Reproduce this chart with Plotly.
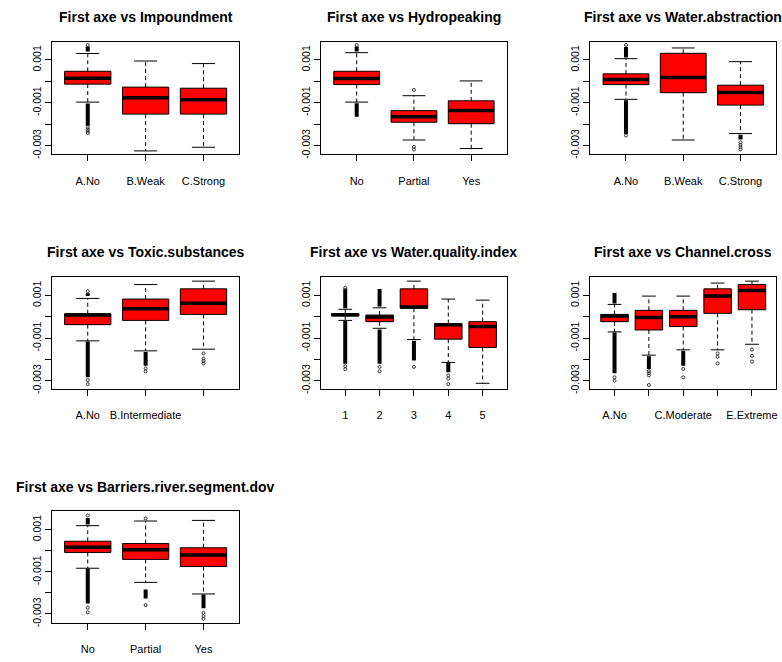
import plotly.graph_objects as go

W, H = 782, 662

# ---------------- data ----------------
imp_title = "First axe vs Impoundment"
imp_ticks = ["A.No", "B.Weak", "C.Strong"]
imp_lo = [-0.00097, -0.00325, -0.00308]
imp_q1 = [-0.00013, -0.00153, -0.00153]
imp_med = [0.00015, -0.00077, -0.00086]
imp_q3 = [0.00047, -0.00027, -0.00032]
imp_hi = [0.00130, 0.00095, 0.00083]
imp_runs = [[(0.00140, 0.00163), (-0.00103, -0.00207)], [], []]
imp_pts = [[0.00170, -0.00215, -0.00224, -0.00232, -0.00241], [], []]

hyd_title = "First axe vs Hydropeaking"
hyd_ticks = ["No", "Partial", "Yes"]
hyd_lo = [-0.00097, -0.00274, -0.00314]
hyd_q1 = [-0.00015, -0.00191, -0.00198]
hyd_med = [0.00013, -0.00165, -0.00136]
hyd_q3 = [0.00047, -0.00137, -0.00091]
hyd_hi = [0.00134, -0.00067, 0.00002]
hyd_runs = [[(0.00140, 0.00163), (-0.00102, -0.00166)], [], []]
hyd_pts = [[0.00170], [-0.00040, -0.00306, -0.00318], []]

wab_title = "First axe vs Water.abstraction"
wab_ticks = ["A.No", "B.Weak", "C.Strong"]
wab_lo = [-0.00084, -0.00274, -0.00244]
wab_q1 = [-0.00015, -0.00053, -0.00111]
wab_med = [0.00009, 0.00018, -0.00052]
wab_q3 = [0.00035, 0.00131, -0.00018]
wab_hi = [0.00106, 0.00156, 0.00092]
wab_runs = [[(0.00112, 0.00160), (-0.00088, -0.00246)], [], [(-0.00250, -0.00272)]]
wab_pts = [[0.00170, -0.00253], [], [-0.00285, -0.00297, -0.00308, -0.00318]]

tox_title = "First axe vs Toxic.substances"
tox_ticks = ["A.No", "B.Intermediate", ""]
tox_lo = [-0.00113, -0.00160, -0.00152]
tox_q1 = [-0.00037, -0.00017, 0.00011]
tox_med = [0.00008, 0.00038, 0.00063]
tox_q3 = [0.00014, 0.00083, 0.00131]
tox_hi = [0.00086, 0.00151, 0.00167]
tox_runs = [[(0.00097, 0.00110), (-0.00116, -0.00284)], [(-0.00165, -0.00230)], []]
tox_pts = [[0.00120, -0.00297, -0.00316], [-0.00242, -0.00256], [-0.00172, -0.00196, -0.00207, -0.00219]]

wqi_title = "First axe vs Water.quality.index"
wqi_ticks = ["1", "2", "3", "4", "5"]
wqi_lo = [-0.00017, -0.00054, -0.00107, -0.00214, -0.00312]
wqi_q1 = [0.00004, -0.00023, 0.00040, -0.00105, -0.00144]
wqi_med = [0.00010, -0.00001, 0.00046, -0.00037, -0.00046]
wqi_q3 = [0.00015, 0.00008, 0.00131, -0.00032, -0.00023]
wqi_hi = [0.00035, 0.00042, 0.00167, 0.00083, 0.00078]
wqi_runs = [[(0.00040, 0.00133), (-0.00020, -0.00220)],
            [(0.00048, 0.00130), (-0.00060, -0.00220)],
            [(-0.00112, -0.00205)],
            [(-0.00216, -0.00260)],
            []]
wqi_pts = [[0.00136, -0.00232, -0.00246], [-0.00235, -0.00256], [-0.00235],
           [-0.00275, -0.00290, -0.00316], []]

chc_title = "First axe vs Channel.cross"
chc_ticks = ["A.No", "", "C.Moderate", "", "E.Extreme"]
chc_lo = [-0.00071, -0.00180, -0.00155, -0.00155, -0.00129]
chc_q1 = [-0.00023, -0.00062, -0.00046, 0.00016, 0.00033]
chc_med = [0.00004, -0.00004, 0.00000, 0.00097, 0.00123]
chc_q3 = [0.00011, 0.00030, 0.00030, 0.00131, 0.00151]
chc_hi = [0.00058, 0.00097, 0.00097, 0.00158, 0.00167]
chc_runs = [[(0.00062, 0.00112), (-0.00074, -0.00265)],
            [(-0.00185, -0.00245)],
            [(-0.00160, -0.00230)],
            [], []]
chc_pts = [[-0.00284, -0.00300], [-0.00255, -0.00265, -0.00275, -0.00320],
           [-0.00245, -0.00284], [-0.00172, -0.00188, -0.00219], [-0.00154, -0.00183, -0.00210]]

bar_title = "First axe vs Barriers.river.segment.dov"
bar_ticks = ["No", "Partial", "Yes"]
bar_lo = [-0.00083, -0.00150, -0.00205]
bar_q1 = [-0.00008, -0.00041, -0.00075]
bar_med = [0.00016, 0.00005, -0.00020]
bar_q3 = [0.00045, 0.00034, 0.00014]
bar_hi = [0.00119, 0.00141, 0.00144]
bar_runs = [[(0.00125, 0.00155), (-0.00086, -0.00250)], [(-0.00184, -0.00227)], [(-0.00208, -0.00273)]]
bar_pts = [[0.00167, -0.00270, -0.00292], [0.00153, -0.00258], [-0.00295, -0.00310, -0.00323]]

y_tickvals = [0.001, 0.0, -0.001, -0.002, -0.003]
y_ticktext = ["0.001", "", "-0.001", "", "-0.003"]

panels = [
    (imp_title, imp_ticks, imp_lo, imp_q1, imp_med, imp_q3, imp_hi, imp_runs, imp_pts),
    (hyd_title, hyd_ticks, hyd_lo, hyd_q1, hyd_med, hyd_q3, hyd_hi, hyd_runs, hyd_pts),
    (wab_title, wab_ticks, wab_lo, wab_q1, wab_med, wab_q3, wab_hi, wab_runs, wab_pts),
    (tox_title, tox_ticks, tox_lo, tox_q1, tox_med, tox_q3, tox_hi, tox_runs, tox_pts),
    (wqi_title, wqi_ticks, wqi_lo, wqi_q1, wqi_med, wqi_q3, wqi_hi, wqi_runs, wqi_pts),
    (chc_title, chc_ticks, chc_lo, chc_q1, chc_med, chc_q3, chc_hi, chc_runs, chc_pts),
    (bar_title, bar_ticks, bar_lo, bar_q1, bar_med, bar_q3, bar_hi, bar_runs, bar_pts),
]

# ---------------- layout geometry (pixels) ----------------
col_px = [(52, 240), (322, 508), (592, 778)]
row_px = [(42.5, 155.5), (279, 392), (515, 628)]
title_y_px = [17, 254, 491]
y_ranges = [[-0.00341, 0.00183], [-0.00339, 0.00187], [-0.00344, 0.00188]]

FONT = "Liberation Sans, Arial, sans-serif"
BOXW = 0.8

fig = go.Figure()
layout = dict(width=W, height=H, margin=dict(l=0, r=0, t=0, b=0),
              paper_bgcolor="white", plot_bgcolor="white", showlegend=False,
              annotations=[])

for k, (title, ticks, lo, q1, med, q3, hi, runs, pts) in enumerate(panels):
    r, c = divmod(k, 3)
    n = len(ticks)
    pos = list(range(1, n + 1))
    sfx = "" if k == 0 else str(k + 1)
    xa, ya = "x" + sfx, "y" + sfx

    # whiskers (dashed)
    wx, wy = [], []
    for i in range(n):
        wx += [pos[i], pos[i], None, pos[i], pos[i], None]
        wy += [q3[i], hi[i], None, q1[i], lo[i], None]
    fig.add_trace(go.Scatter(x=wx, y=wy, mode="lines", xaxis=xa, yaxis=ya,
                             line=dict(color="black", width=1, dash="4px,3px"),
                             hoverinfo="skip"))
    # staples
    sx, sy = [], []
    for i in range(n):
        for v in (hi[i], lo[i]):
            sx += [pos[i] - BOXW / 4, pos[i] + BOXW / 4, None]
            sy += [v, v, None]
    fig.add_trace(go.Scatter(x=sx, y=sy, mode="lines", xaxis=xa, yaxis=ya,
                             line=dict(color="black", width=1), hoverinfo="skip"))
    # boxes
    fig.add_trace(go.Box(x=pos, q1=q1, median=med, q3=q3, lowerfence=q1, upperfence=q3,
                         width=BOXW, whiskerwidth=0, fillcolor="#ff0000",
                         line=dict(color="black", width=1), boxpoints=False,
                         xaxis=xa, yaxis=ya, hoverinfo="skip"))
    # medians (thick)
    mx, my = [], []
    for i in range(n):
        mx += [pos[i] - BOXW / 2, pos[i] + BOXW / 2, None]
        my += [med[i], med[i], None]
    fig.add_trace(go.Scatter(x=mx, y=my, mode="lines", xaxis=xa, yaxis=ya,
                             line=dict(color="black", width=3.5), hoverinfo="skip"))
    # dense outlier runs
    rx, ry = [], []
    for i in range(n):
        for (a, b) in runs[i]:
            rx += [pos[i], pos[i], None]
            ry += [a, b, None]
    if rx:
        fig.add_trace(go.Scatter(x=rx, y=ry, mode="lines", xaxis=xa, yaxis=ya,
                                 line=dict(color="black", width=4), hoverinfo="skip"))
    # single outliers
    px_, py_ = [], []
    for i in range(n):
        for v in pts[i]:
            px_.append(pos[i])
            py_.append(v)
    if px_:
        fig.add_trace(go.Scatter(x=px_, y=py_, mode="markers", xaxis=xa, yaxis=ya,
                                 marker=dict(symbol="circle-open", size=3, color="#333333",
                                             line=dict(width=1)),
                                 hoverinfo="skip"))

    x0, x1 = col_px[c]
    t0, t1 = row_px[r]
    ext = 0.04 * n
    layout["xaxis" + sfx] = dict(domain=[x0 / W, x1 / W], anchor=ya,
                                 range=[0.5 - ext, n + 0.5 + ext],
                                 tickvals=pos, ticktext=ticks, ticks="outside", ticklen=6,
                                 tickcolor="black", showline=True, mirror=True,
                                 linecolor="black", linewidth=1, showgrid=False,
                                 zeroline=False, tickangle=0, ticklabelstandoff=10,
                                 tickfont=dict(family=FONT, size=11, color="black"))
    layout["yaxis" + sfx] = dict(domain=[1 - t1 / H, 1 - t0 / H], anchor=xa,
                                 range=y_ranges[r], tickvals=y_tickvals,
                                 ticktext=y_ticktext, ticks="outside", ticklen=6,
                                 tickcolor="black", showline=True, mirror=True,
                                 linecolor="black", linewidth=1, showgrid=False,
                                 zeroline=False, tickangle=-90,
                                 tickfont=dict(family=FONT, size=10.5, color="black"))
    layout["annotations"].append(dict(
        text=title, xref="paper", yref="paper", x=(x0 + x1) / 2 / W,
        y=1 - title_y_px[r] / H, xanchor="center", yanchor="middle", showarrow=False,
        font=dict(family=FONT, size=14, color="black", weight=700)))

fig.update_layout(**layout)
fig.write_html("out.html")
